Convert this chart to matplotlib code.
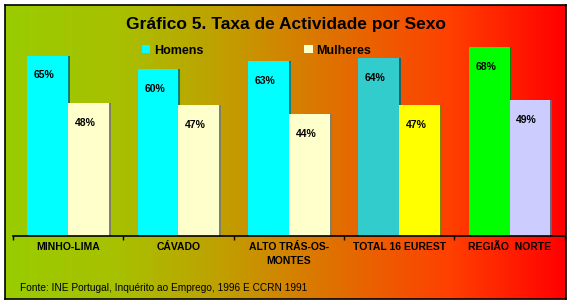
import numpy as np
import matplotlib
matplotlib.use("Agg")
import matplotlib.pyplot as plt
from matplotlib.colors import LinearSegmentedColormap, to_rgb
from matplotlib.patches import Patch
import matplotlib.transforms as mtrans

plt.rcParams['font.family'] = ['Liberation Sans', 'DejaVu Sans']

# data
categories = ["MINHO-LIMA", "CÁVADO", "ALTO TRÁS-OS-\nMONTES", "TOTAL 16 EUREST", "REGIÃO  NORTE"]
homens = [65, 60, 63, 64, 68]
mulheres = [48, 47, 44, 47, 49]
homens_cor = ["#00ffff", "#00ffff", "#00ffff", "#33cccc", "#00ff00"]
mulheres_cor = ["#ffffcc", "#ffffcc", "#ffffcc", "#ffff00", "#ccccff"]
titulo = "Gráfico 5. Taxa de Actividade por Sexo"
fonte = "Fonte: INE Portugal, Inquérito ao Emprego, 1996 E CCRN 1991"

fig = plt.figure(figsize=(5.69, 3.04), dpi=100)

# background gradient inside black frame
bg = fig.add_axes([5/569, 5/304, 561/569, 294/304])
cmap = LinearSegmentedColormap.from_list("bg", [(0, "#99cc00"), (0.205, "#a8c000"), (0.383, "#c0a000"),
                                                (0.588, "#e07000"), (0.793, "#ff4000"), (1, "#ff0000")])
bg.imshow(np.linspace(0, 1, 512)[None, :], cmap=cmap, aspect="auto", extent=[0, 1, 0, 1])
bg.set_xlim(0, 1)
bg.set_ylim(0, 1)
bg.set_xticks([])
bg.set_yticks([])
for s in bg.spines.values():
    s.set_linewidth(1.2)
    s.set_color("black")

ax = fig.add_axes([12.8/569, 1 - 235.5/304, 552/569, 221.5/304])
ax.patch.set_alpha(0)
x = np.arange(len(categories))
w = 0.37
sw = 0.017

def darker(c):
    r, g, b = to_rgb(c)
    return (r*0.5, g*0.5, b*0.5)

for i in x:
    ax.bar(i - w, homens[i], width=w, align="edge", color=homens_cor[i], zorder=2)
    ax.bar(i, homens[i], width=sw, align="edge", color=darker(homens_cor[i]), zorder=2.1)
    ax.bar(i, mulheres[i], width=w, align="edge", color=mulheres_cor[i], zorder=2.2)
    ax.bar(i + w, mulheres[i], width=sw, align="edge", color=darker(mulheres_cor[i]), zorder=2.3)
    ax.text(i - w/2 - 0.03, homens[i] - 7.2, f"{homens[i]}%", ha="center", va="center",
            fontsize=7.5, fontweight="bold", zorder=3)
    ax.text(i + w/2 - 0.03, mulheres[i] - 7.2, f"{mulheres[i]}%", ha="center", va="center",
            fontsize=7.5, fontweight="bold", zorder=3)

ax.set_xlim(-0.5, len(categories) - 0.5)
ax.set_ylim(0, 80)
ax.set_yticks([])
ax.set_xticks(np.arange(len(categories) + 1) - 0.5)
ax.set_xticklabels([])
ax.tick_params(axis="x", direction="out", length=3, width=1, color="black")
for s in ["left", "right", "top"]:
    ax.spines[s].set_visible(False)
ax.spines["bottom"].set_linewidth(1.2)

trans = mtrans.blended_transform_factory(ax.transData, ax.transAxes)
for i, c in enumerate(categories):
    ax.text(i, -0.03, c, transform=trans, ha="center", va="top", fontsize=7.5,
            fontweight="bold", linespacing=1.45)

fig.text(0.503, 1 - 25/304, titulo, ha="center", va="center", fontsize=12.5, fontweight="bold")
fig.text(20/569, 1 - 287.7/304, fonte, ha="left", va="center", fontsize=7.3)

handles = [Patch(facecolor="#00ffff", label="Homens"), Patch(facecolor="#ffffcc", label="Mulheres")]
fig.legend(handles=handles, loc="center", bbox_to_anchor=(256.5/569, 1 - 50.7/304), ncol=2,
           frameon=False, handlelength=0.65, handleheight=0.65, handletextpad=0.3,
           columnspacing=8.1, prop={"weight": "bold", "size": 9})

fig.savefig("out.png", dpi=100)
